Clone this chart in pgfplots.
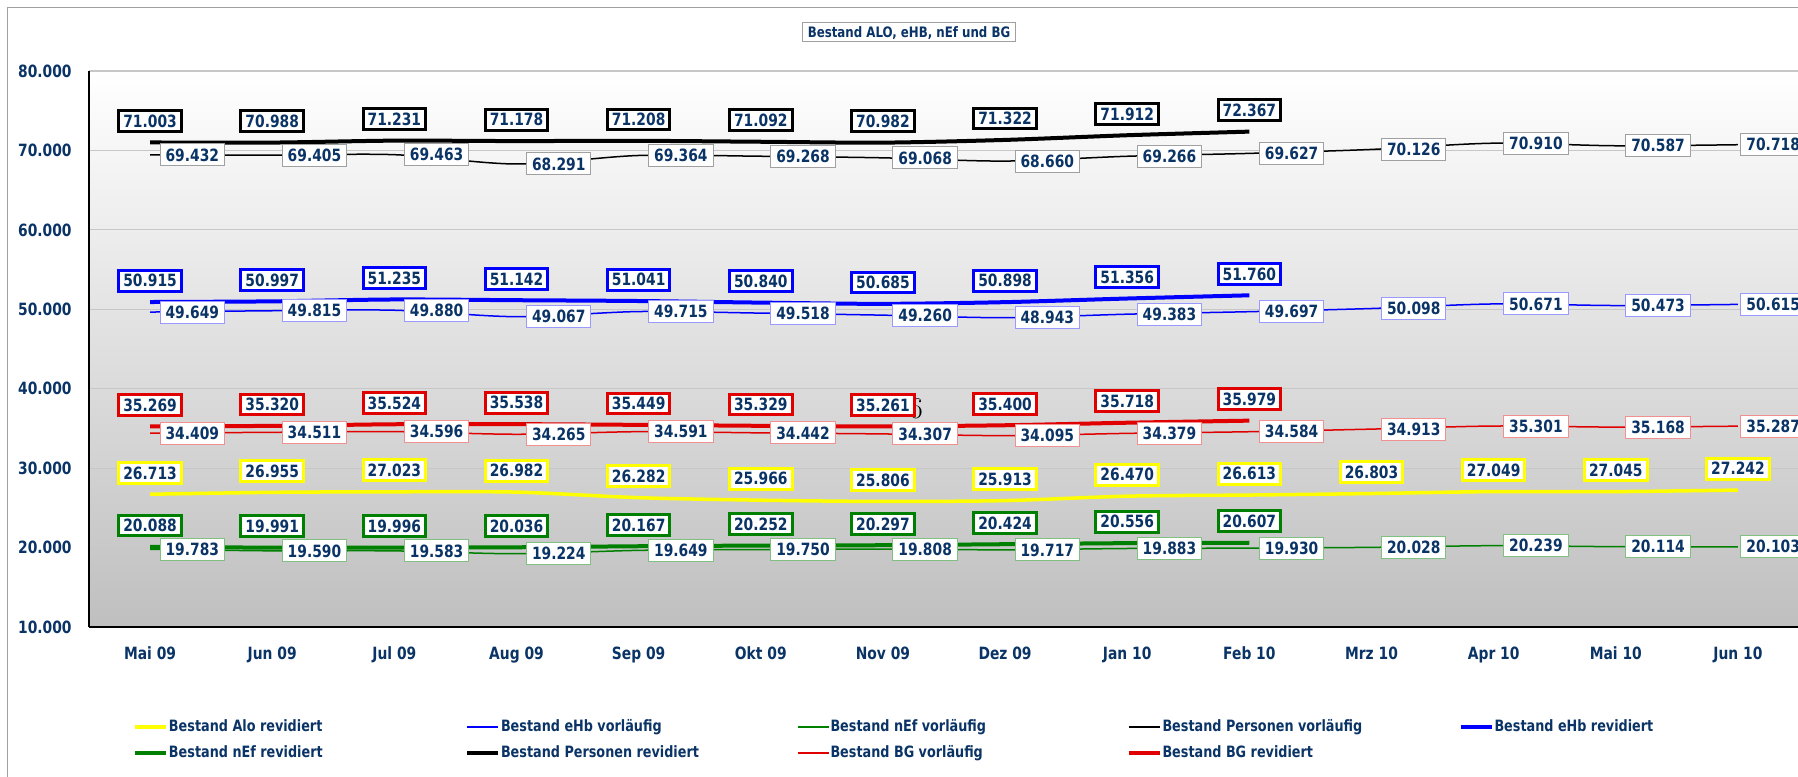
\documentclass[border=0pt]{standalone}
\usepackage{pgfplots}
\pgfplotsset{compat=1.18}
\usepackage{pgfplotstable}
\usepackage{fontspec}
\newfontfamily\cf{DejaVu Sans}[FakeStretch=0.82]
\definecolor{navy}{HTML}{0A3366}
\definecolor{myred}{HTML}{E00000}
\definecolor{mygreen}{HTML}{008000}
\definecolor{myblue}{HTML}{0000FF}
\definecolor{myyellow}{HTML}{FFFF00}
\definecolor{lblue}{HTML}{9999FF}
\definecolor{lred}{HTML}{F09090}
\definecolor{lgreen}{HTML}{80C080}
\definecolor{lgray}{HTML}{A0A0A0}
\pgfplotstableread{
x pr pv er ev br bv alo nr nv
0 71.003 69.432 50.915 49.649 35.269 34.409 26.713 20.088 19.783
1 70.988 69.405 50.997 49.815 35.320 34.511 26.955 19.991 19.590
2 71.231 69.463 51.235 49.880 35.524 34.596 27.023 19.996 19.583
3 71.178 68.291 51.142 49.067 35.538 34.265 26.982 20.036 19.224
4 71.208 69.364 51.041 49.715 35.449 34.591 26.282 20.167 19.649
5 71.092 69.268 50.840 49.518 35.329 34.442 25.966 20.252 19.750
6 70.982 69.068 50.685 49.260 35.261 34.307 25.806 20.297 19.808
7 71.322 68.660 50.898 48.943 35.400 34.095 25.913 20.424 19.717
8 71.912 69.266 51.356 49.383 35.718 34.379 26.470 20.556 19.883
9 72.367 69.627 51.760 49.697 35.979 34.584 26.613 20.607 19.930
10 nan 70.126 nan 50.098 nan 34.913 26.803 nan 20.028
11 nan 70.910 nan 50.671 nan 35.301 27.049 nan 20.239
12 nan 70.587 nan 50.473 nan 35.168 27.045 nan 20.114
13 nan 70.718 nan 50.615 nan 35.287 27.242 nan 20.103
}\data
\tikzset{
 lab/.style={font=\cf\bfseries\fontsize{8.45}{10}\selectfont, text=navy, fill=white, text height=6.2pt, text depth=0pt},
 revlab/.style={lab, line width=1.5pt, inner xsep=2.25pt, inner ysep=2.1pt, anchor=south, yshift=4.75pt},
 vorlab/.style={lab, line width=0.5pt, inner xsep=2.75pt, inner ysep=2.4pt, anchor=west, xshift=4.75pt},
}
\pgfplotsset{
 labrev/.style={draw=none, forget plot, point meta=y,
   nodes near coords={\pgfmathprintnumber[fixed,fixed zerofill,precision=3,assume math mode=true]{\pgfplotspointmeta}},
   every node near coord/.append style={revlab, draw=#1}},
 labvor/.style={draw=none, forget plot, point meta=y, restrict x to domain=0:12.5,
   nodes near coords={\pgfmathprintnumber[fixed,fixed zerofill,precision=3,assume math mode=true]{\pgfplotspointmeta}},
   every node near coord/.append style={vorlab, draw=#1}},
 labvorlast/.style={draw=none, forget plot, point meta=y, restrict x to domain=12.5:13.5,
   nodes near coords={\pgfmathprintnumber[fixed,fixed zerofill,precision=3,assume math mode=true]{\pgfplotspointmeta}},
   every node near coord/.append style={vorlab, xshift=-3.5pt, draw=#1}},
}
\begin{document}
\begin{tikzpicture}[x=1pt,y=1pt]
\useasboundingbox (0,0) rectangle (899,388);
\clip (0,0) rectangle (899,388);
\draw[color=lgray, line width=0.5pt] (3.5,-10) rectangle (910,384);
\node[draw=lgray, fill=white, line width=0.5pt, inner xsep=2.75pt, inner ysep=1.9pt, text height=5.3pt, text depth=0pt, font=\cf\bfseries\fontsize{7.2}{8}\selectfont, text=navy] at (454.5,372) {Bestand ALO, eHB, nEf und BG};
\begin{axis}[
 at={(44.5pt,74.5pt)}, anchor=south west,
 scale only axis, width=855pt, height=278pt,
 xmin=-0.5, xmax=13.5, ymin=10, ymax=80,
 clip=false,
 axis x line*=bottom, axis y line*=left,
 axis line style={-, black, line width=0.75pt},
 axis background/.style={shade, top color=white, middle color=black!14, bottom color=black!25},
 ymajorgrids, major grid style={black!22, line width=0.6pt},
 major tick length=0pt,
 xtick={0,...,13},
 xticklabels={Mai 09, Jun 09, Jul 09, Aug 09, Sep 09, Okt 09, Nov 09, Dez 09, Jan 10, Feb 10, Mrz 10, Apr 10, Mai 10, Jun 10},
 ytick={10,20,30,40,50,60,70,80},
 yticklabels={10.000,20.000,30.000,40.000,50.000,60.000,70.000,80.000},
 yticklabel style={font=\cf\bfseries\fontsize{8.45}{10}\selectfont, text=navy, anchor=east, inner sep=0pt, xshift=-8.5pt},
 xticklabel style={font=\cf\bfseries\fontsize{8.45}{10}\selectfont, text=navy, anchor=north, inner sep=0pt, yshift=-10pt, text height=6.2pt, text depth=0pt},
 legend columns=5,
 legend style={at={(0.0255,-0.2032)}, anchor=west, draw=none, fill=none, inner sep=0pt,
   column sep=0pt, row sep=6pt, font=\cf\bfseries\fontsize{7.8}{9}\selectfont, text=navy,
   nodes={inner xsep=0.5pt, inner ysep=0pt, text height=5.6pt, text depth=1.4pt}},
 legend image code/.code={\draw[#1] (0pt,0pt) -- (15.5pt,0pt);},
 legend cell align=left,
]
\addplot[myyellow, line width=1.75pt, smooth] table[x=x,y=alo]{\data};
\addlegendentry{\makebox[147.5pt][l]{Bestand Alo revidiert}}
\addplot[myblue, line width=0.75pt, smooth] table[x=x,y=ev]{\data};
\addlegendentry{\makebox[147.5pt][l]{Bestand eHb vorläufig}}
\addplot[mygreen, line width=0.75pt, smooth] table[x=x,y=nv]{\data};
\addlegendentry{\makebox[147.5pt][l]{Bestand nEf vorläufig}}
\addplot[black, line width=0.75pt, smooth] table[x=x,y=pv]{\data};
\addlegendentry{\makebox[147.5pt][l]{Bestand Personen vorläufig}}
\addplot[myblue, line width=2pt, smooth] table[x=x,y=er]{\data};
\addlegendentry{\makebox[147.5pt][l]{Bestand eHb revidiert}}
\addplot[mygreen, line width=2pt, smooth] table[x=x,y=nr]{\data};
\addlegendentry{\makebox[147.5pt][l]{Bestand nEf revidiert}}
\addplot[black, line width=2pt, smooth] table[x=x,y=pr]{\data};
\addlegendentry{\makebox[147.5pt][l]{Bestand Personen revidiert}}
\addplot[myred, line width=0.75pt, smooth] table[x=x,y=bv]{\data};
\addlegendentry{\makebox[147.5pt][l]{Bestand BG vorläufig}}
\addplot[myred, line width=2pt, smooth] table[x=x,y=br]{\data};
\addlegendentry{\makebox[147.5pt][l]{Bestand BG revidiert}}
% data labels
\addplot[labrev=myyellow] table[x=x,y=alo]{\data};
\addplot[labvor=lblue] table[x=x,y=ev]{\data};
\addplot[labvor=lgreen] table[x=x,y=nv]{\data};
\addplot[labvor=lgray] table[x=x,y=pv]{\data};
\addplot[labvor=lred] table[x=x,y=bv]{\data};
\addplot[labvorlast=lblue] table[x=x,y=ev]{\data};
\addplot[labvorlast=lgreen] table[x=x,y=nv]{\data};
\addplot[labvorlast=lgray] table[x=x,y=pv]{\data};
\addplot[labvorlast=lred] table[x=x,y=bv]{\data};
\addplot[labrev=myblue] table[x=x,y=er]{\data};
\addplot[labrev=mygreen] table[x=x,y=nr]{\data};
\addplot[labrev=black] table[x=x,y=pr]{\data};
\addplot[labrev=myred] table[x=x,y=br]{\data};
\node[font=\fontsize{15}{15}\selectfont, text=black] at (axis cs:6.27,37.45) {6};
\end{axis}
\end{tikzpicture}
\end{document}
